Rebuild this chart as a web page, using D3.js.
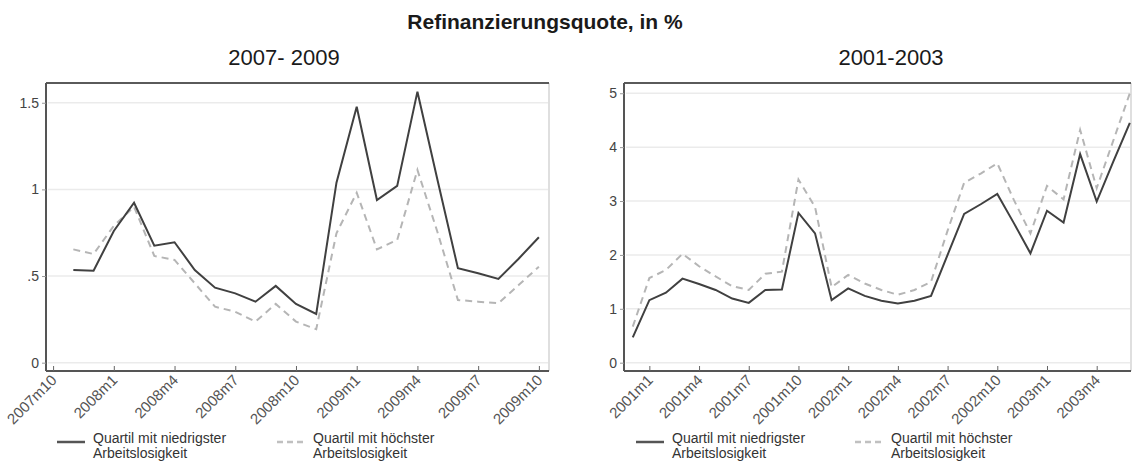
<!DOCTYPE html>
<html lang="de">
<head>
  <meta charset="UTF-8">
  <title>Refinanzierungsquote</title>
  <script src="https://d3js.org/d3.v7.min.js"></script>
  <style>
    body { margin: 0; background: #fff; }
    svg { font-family: "Liberation Sans", Arial, sans-serif; }
  </style>
</head>
<body>
  <div id="chart"></div>
  <script>
    // --- data ---
    const mainTitle = "Refinanzierungsquote, in %";
    const seriesNames = ["Quartil mit niedrigster|Arbeitslosigkeit", "Quartil mit höchster|Arbeitslosigkeit"];

    // panel 1: 2007 - 2009
    const monthsA = ["2007m11","2007m12","2008m1","2008m2","2008m3","2008m4","2008m5","2008m6",
      "2008m7","2008m8","2008m9","2008m10","2008m11","2008m12","2009m1","2009m2","2009m3","2009m4",
      "2009m5","2009m6","2009m7","2009m8","2009m9","2009m10"];
    const lowA = [0.535,0.531,0.76,0.923,0.675,0.695,0.535,0.433,0.40,0.352,0.443,0.339,
      0.281,1.039,1.477,0.939,1.02,1.564,1.05,0.545,0.516,0.483,0.60,0.724];
    const highA = [0.654,0.627,0.79,0.90,0.616,0.593,0.458,0.323,0.294,0.237,0.339,0.237,
      0.193,0.747,0.981,0.654,0.708,1.112,0.75,0.362,0.352,0.343,0.448,0.554];
    const ticksA = ["2007m10","2008m1","2008m4","2008m7","2008m10","2009m1","2009m4","2009m7","2009m10"];
    const yTicksA = [0, 0.5, 1, 1.5];

    // panel 2: 2001 - 2003
    const monthsB = ["2000m12","2001m1","2001m2","2001m3","2001m4","2001m5","2001m6","2001m7",
      "2001m8","2001m9","2001m10","2001m11","2001m12","2002m1","2002m2","2002m3","2002m4","2002m5",
      "2002m6","2002m7","2002m8","2002m9","2002m10","2002m11","2002m12","2003m1","2003m2","2003m3",
      "2003m4","2003m5","2003m6"];
    const lowB = [0.47,1.16,1.30,1.56,1.46,1.35,1.19,1.11,1.35,1.36,2.78,2.40,1.16,1.38,
      1.24,1.15,1.10,1.15,1.24,2.0,2.76,2.94,3.13,2.59,2.03,2.82,2.60,3.87,2.99,3.73,4.45];
    const highB = [0.67,1.57,1.72,2.02,1.79,1.60,1.42,1.35,1.65,1.69,3.40,2.89,1.40,1.63,
      1.47,1.35,1.26,1.35,1.50,2.45,3.34,3.51,3.70,3.02,2.40,3.28,3.03,4.32,3.24,4.12,5.0];
    const ticksB = ["2001m1","2001m4","2001m7","2001m10","2002m1","2002m4","2002m7","2002m10","2003m1","2003m4"];
    const yTicksB = [0, 1, 2, 3, 4, 5];

    const toMonth = s => { const [y, m] = s.split("m").map(Number); return y * 12 + m - 1; };

    const W = 1132, H = 461;
    const svg = d3.select("#chart").append("svg").attr("width", W).attr("height", H);

    svg.append("text").attr("x", 545).attr("y", 29).attr("text-anchor", "middle")
      .attr("font-size", 21).attr("font-weight", "bold").attr("fill", "#1a1a1a").text(mainTitle);

    const panels = [
      { title: "2007- 2009", cx: 284, left: 46, right: 549, months: monthsA, low: lowA, high: highA,
        ticks: ticksA, yTicks: yTicksA, xDom: [toMonth("2007m10") - 0.35, toMonth("2009m10") + 0.5],
        yDom: [-0.048, 1.614], legendX: [57, 277] },
      { title: "2001-2003", cx: 891, left: 624, right: 1131, months: monthsB, low: lowB, high: highB,
        ticks: ticksB, yTicks: yTicksB, xDom: [toMonth("2001m1") - 1.53, toMonth("2003m4") + 2.07],
        yDom: [-0.154, 5.19], legendX: [636, 855] }
    ];

    const plotTop = 83, plotBottom = 371;

    panels.forEach(p => {
      const x = d3.scaleLinear().domain(p.xDom).range([p.left, p.right]);
      const y = d3.scaleLinear().domain(p.yDom).range([plotBottom, plotTop]);
      const g = svg.append("g");

      g.append("text").attr("x", p.cx).attr("y", 65).attr("text-anchor", "middle")
        .attr("font-size", 22).attr("fill", "#1a1a1a").text(p.title);

      // gridlines
      g.selectAll(".grid").data(p.yTicks).join("line")
        .attr("x1", p.left + 2).attr("x2", p.right - 1)
        .attr("y1", d => y(d)).attr("y2", d => y(d))
        .attr("stroke", "#ebebeb").attr("stroke-width", 1.5);

      // frame
      g.append("line").attr("x1", p.right).attr("x2", p.right).attr("y1", plotTop).attr("y2", plotBottom)
        .attr("stroke", "#d4d4d4").attr("stroke-width", 1.5);
      g.append("line").attr("x1", p.left).attr("x2", p.right).attr("y1", plotTop).attr("y2", plotTop)
        .attr("stroke", "#5a5a5a").attr("stroke-width", 2);

      // y axis
      const yAxis = d3.axisLeft(y).tickValues(p.yTicks).tickSize(4).tickPadding(3)
        .tickFormat(d => d === 0 ? "0" : String(d).replace(/^0\./, "."));
      const ya = g.append("g").attr("transform", `translate(${p.left},0)`).call(yAxis);
      ya.select(".domain").attr("stroke", "#555").attr("stroke-width", 2)
        .attr("d", `M0,${plotTop}V${plotBottom}`);
      ya.selectAll(".tick line").attr("stroke", "#999");
      ya.selectAll(".tick text").attr("font-size", 14).attr("fill", "#444");

      // x axis
      const xAxis = d3.axisBottom(x).tickValues(p.ticks.map(toMonth)).tickSize(-5)
        .tickFormat((d, i) => p.ticks[i]);
      const xa = g.append("g").attr("transform", `translate(0,${plotBottom})`).call(xAxis);
      xa.select(".domain").attr("stroke", "#555").attr("stroke-width", 2)
        .attr("d", `M${p.left},0H${p.right}`);
      xa.selectAll(".tick line").attr("stroke", "#666");
      xa.selectAll(".tick text").attr("font-size", 15).attr("fill", "#555")
        .attr("text-anchor", "end").attr("dy", 0).attr("y", 0)
        .attr("transform", "translate(4,10) rotate(-45)");

      // lines
      const line = d3.line().x((d, i) => x(toMonth(p.months[i]))).y(d => y(d));
      g.append("path").datum(p.high).attr("d", line).attr("fill", "none")
        .attr("stroke", "#b5b5b5").attr("stroke-width", 2).attr("stroke-dasharray", "7,5");
      g.append("path").datum(p.low).attr("d", line).attr("fill", "none")
        .attr("stroke", "#404040").attr("stroke-width", 2);

      // legend
      const styles = [{ stroke: "#555", dash: null }, { stroke: "#c0c0c0", dash: "6,4" }];
      seriesNames.forEach((name, i) => {
        const lx = p.legendX[i];
        g.append("line").attr("x1", lx).attr("x2", lx + 28).attr("y1", 442).attr("y2", 442)
          .attr("stroke", styles[i].stroke).attr("stroke-width", 2.5)
          .attr("stroke-dasharray", styles[i].dash);
        const t = g.append("text").attr("x", lx + 36).attr("font-size", 14).attr("fill", "#333");
        name.split("|").forEach((s, k) => {
          t.append("tspan").attr("x", lx + 36).attr("y", 443 + k * 15).text(s);
        });
      });
    });
  </script>
</body>
</html>
